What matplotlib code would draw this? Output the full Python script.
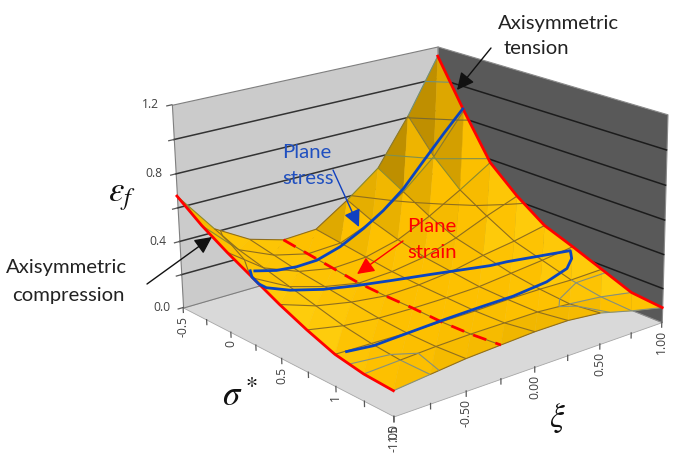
import numpy as np, matplotlib
matplotlib.use('Agg')
import matplotlib.pyplot as plt
from matplotlib.colors import to_rgb
from mpl_toolkits.mplot3d import proj3d
from mpl_toolkits.mplot3d.art3d import Poly3DCollection, Line3DCollection
plt.rcParams['font.family']=['Lato','DejaVu Sans']
plt.rcParams['mathtext.fontset']='stix'

sigma_vals=[-.5,-.25,0,.25,.5,.75,1,1.25,1.5]
xi_vals=[-1,-.75,-.5,-.25,0,.25,.5,.75,1]
eps_sigma_m050=[.67,.42,.30,.24,.25,.38,.53,.81,1.14]
eps_sigma_m025=[.56,.36,.27,.22,.23,.31,.44,.61,.85]
eps_sigma_000=[.47,.32,.24,.20,.21,.26,.35,.46,.58]
eps_sigma_025=[.39,.28,.22,.18,.19,.22,.28,.36,.43]
eps_sigma_050=[.31,.24,.20,.175,.18,.20,.24,.27,.31]
eps_sigma_075=[.24,.20,.18,.175,.175,.18,.20,.22,.245]
eps_sigma_100=[.18,.175,.17,.17,.17,.175,.175,.17,.175]
eps_sigma_125=[.15,.16,.17,.175,.175,.175,.16,.14,.105]
eps_sigma_150=[.14,.16,.18,.19,.20,.20,.18,.13,.087]
plane_stress_a_sigma=[-.255,-.275,-.29,-.28,-.265,-.25,-.21,-.14,-.065,.02,.14]
plane_stress_a_xi=[.995,.855,.695,.525,.35,.18,-.035,-.265,-.47,-.675,-.91]
plane_stress_a_eps=[.86,.729,.58,.447,.351,.28,.225,.214,.243,.293,.379]
plane_stress_b_sigma=[.16,.24,.305,.335,.31,.295,.285,.345,.45,.61,.64,.755,.82,.89,.945,.975,.975,.985,1.005,1.02,1.005]
plane_stress_b_xi=[-.955,-1,-1,-.97,-.79,-.545,-.295,-.09,.15,.46,.565,.975,.925,.82,.605,.315,.06,-.2,-.505,-.75,-.925]
plane_stress_b_eps=[.396,.393,.372,.351,.286,.227,.186,.183,.195,.217,.224,.228,.209,.192,.178,.172,.17,.17,.17,.169,.177]
z_ticks=[0,.2,.4,.6,.8,1.0,1.2]
z_labels=['0.0','0.4','0.8','1.2']
sigma_labels=['-0.5','0','0.5','1','1.5']
xi_labels=['-1.00','-0.50','0.00','0.50','1.00']

Z=np.array([eps_sigma_m050,eps_sigma_m025,eps_sigma_000,eps_sigma_025,eps_sigma_050,eps_sigma_075,eps_sigma_100,eps_sigma_125,eps_sigma_150])
S=np.array(sigma_vals);X=np.array(xi_vals)

fig=plt.figure(figsize=(6.84,4.76),dpi=100,facecolor='white')
ax=fig.add_axes([0,0,1,1],projection='3d',computed_zorder=False)
ax.set_xlim(-.5,1.5,view_margin=0);ax.set_ylim(-1,1,view_margin=0);ax.set_zlim(0,1.2,view_margin=0)
ax.view_init(elev=19.2309,azim=-38.7344,roll=.829)
ax.set_proj_type('persp',focal_length=.7296)
ax.set_box_aspect((1,.9804,.621))
ax.set_axis_off()
ax.patch.set_alpha(0)
ax.apply_aspect()
T=ax.transData.transform
p0=T((0,0));p1=T((.01,.01));a=(p1-p0)[0]/.01
pos=ax.get_position();L0=pos.width*684
fx=(p0[0]-pos.x0*684)/L0;fy=(p0[1]-pos.y0*476)/L0
L=L0*2813.6/a
ax.set_position([(417.83-fx*L)/684,(262.1-fy*L)/476,L/684,L/476])
ax.apply_aspect()
def to_px(s,x,z):
    u,v,_=proj3d.proj_transform(np.atleast_1d(float(s)),np.atleast_1d(float(x)),np.atleast_1d(float(z)),ax.get_proj())
    q=ax.transData.transform(np.c_[u,v])
    return q[0,0],476-q[0,1]

slo,shi,xlo,xhi,zhi=-.5,1.5,-1,1,1.2
ax.add_collection3d(Poly3DCollection([[(slo,xlo,0),(shi,xlo,0),(shi,xhi,0),(slo,xhi,0)]],facecolors='#d9d9d9',edgecolors='#a6a6a6',linewidths=.6,zorder=1))
ax.add_collection3d(Poly3DCollection([[(slo,xlo,0),(slo,xhi,0),(slo,xhi,zhi),(slo,xlo,zhi)]],facecolors='#cbcbcb',edgecolors='#7f7f7f',linewidths=.8,zorder=1))
ax.add_collection3d(Poly3DCollection([[(slo,xhi,0),(shi,xhi,0),(shi,xhi,zhi),(slo,xhi,zhi)]],facecolors='#595959',edgecolors='#8c8c8c',linewidths=.8,zorder=1))
for z in z_ticks[1:-1]:
    ax.plot([slo,slo],[xlo,xhi],[z,z],color='#333333',lw=1.1,zorder=2)
    ax.plot([slo,shi],[xhi,xhi],[z,z],color='#1c1c1c',lw=1.1,zorder=2)
for z in z_ticks:
    ax.plot([slo,slo],[xlo,xlo-.035],[z,z],color='#595959',lw=.9,zorder=2)
for s in sigma_vals:
    ax.plot([s,s],[xlo,xlo],[0,-.03],color='#595959',lw=.9,zorder=2)
for x in xi_vals:
    ax.plot([shi,shi],[x,x],[0,-.03],color='#595959',lw=.9,zorder=2)

tris=[];cols=[]
base=np.array(to_rgb('#FDC000'));bright=np.array(to_rgb('#FFDF1E'));dark=np.array(to_rgb('#BE8F00'))
scale=np.array([.5,.49,.5175])
Lt=np.array([.5,.15,.85]);Lt/=np.linalg.norm(Lt)
for i in range(8):
    for j in range(8):
        a00=(S[i],X[j],Z[i,j]);a10=(S[i+1],X[j],Z[i+1,j]);a11=(S[i+1],X[j+1],Z[i+1,j+1]);a01=(S[i],X[j+1],Z[i,j+1])
        for t in ([a00,a01,a10],[a01,a11,a10]):
            A=(np.array(t[1])-t[0])*scale;B=(np.array(t[2])-t[0])*scale
            n=np.cross(A,B);n/=np.linalg.norm(n)
            if n[2]<0:n=-n
            d=n@Lt-Lt[2]
            col=base+(bright-base)*min(max(d-.03,0)/.2,1) if d>0 else base+(dark-base)*min(-d/.3,1)
            tris.append(t);cols.append(col)
ax.add_collection3d(Poly3DCollection(tris,facecolors=cols,edgecolors=cols,linewidths=.3,zorder=3))
segs=[];sc=[]
def lc(z):
    return '#86907c' if z<.165 else ('#8f6e1e' if z<.42 else ('#8a8a30' if z<.62 else ('#8a7a30' if z<.8 else '#6f9080')))
for i in range(9):
    for j in range(8):
        segs.append([(S[i],X[j],Z[i,j]),(S[i],X[j+1],Z[i,j+1])]);sc.append(lc((Z[i,j]+Z[i,j+1])/2))
        segs.append([(S[j],X[i],Z[j,i]),(S[j+1],X[i],Z[j+1,i])]);sc.append(lc((Z[j,i]+Z[j+1,i])/2))
ax.add_collection3d(Line3DCollection(segs,colors=sc,linewidths=.8,zorder=4))
GS,GX=np.meshgrid(S,X,indexing='ij')
ax.contour(GS,GX,Z,levels=[.165,.4,.6,.8,1.0],colors=['#86907c','#8f6e1e','#7f9050','#7a6a30','#6f9080'],linewidths=.8,zorder=4)
ax.set_xlim(-.5,1.5,view_margin=0);ax.set_ylim(-1,1,view_margin=0);ax.set_zlim(0,1.2,view_margin=0)

ax.plot(S,X[0]*np.ones(9),Z[:,0],color='#FF0000',lw=2,zorder=5)
ax.plot(S,X[-1]*np.ones(9),Z[:,-1],color='#FF0000',lw=2,zorder=5)
ax.plot(S,X[3]*np.ones(9),Z[:,3],color='#FF0000',lw=2,ls=(0,(5,3.5)),zorder=5)
ax.plot(plane_stress_a_sigma,plane_stress_a_xi,plane_stress_a_eps,color='#0B45C0',lw=2,zorder=6)
ax.plot(plane_stress_b_sigma,plane_stress_b_xi,plane_stress_b_eps,color='#0B45C0',lw=2,zorder=6)

ov=fig.add_axes([0,0,1,1]);ov.set_xlim(0,684);ov.set_ylim(476,0);ov.axis('off');ov.patch.set_alpha(0)
tk=dict(fontsize=8.7,color='#404040',family='Open Sans')
for z,l in zip(z_ticks[::2],z_labels):
    x_,y_=to_px(slo,xlo,z);ov.text(x_-13,y_,l,ha='right',va='center',**tk)
for s,l in zip(sigma_vals[::2],sigma_labels):
    x_,y_=to_px(s,xlo,0);ov.text(x_,y_+8,l,ha='center',va='top',rotation=90,**tk)
for x,l in zip(xi_vals[::2],xi_labels):
    x_,y_=to_px(shi,x,0);ov.text(x_,y_+8,l,ha='center',va='top',rotation=90,**tk)
ov.text(122,197,r'$\varepsilon_f$',fontsize=25,ha='center',va='center',color='#111111')
ov.text(240,396,r'$\sigma^*$',fontsize=25,ha='center',va='center',color='#111111')
ov.text(557,418,r'$\xi$',fontsize=24,ha='center',va='center',color='#111111')
ft=dict(fontsize=14.6,ha='left',va='center')
ov.text(498,23,'Axisymmetric',color='#222222',**ft);ov.text(504,49,'tension',color='#222222',**ft)
ov.text(6,268,'Axisymmetric',color='#222222',**ft);ov.text(12,295,'compression',color='#222222',**ft)
ov.text(282,153,'Plane',color='#2050C0',**ft);ov.text(282,179,'stress',color='#2050C0',**ft)
ov.text(407,227,'Plane',color='#FF0000',**ft);ov.text(407,253,'strain',color='#FF0000',**ft)
def arrow(a,b,c):
    ov.annotate('',xy=b,xytext=a,arrowprops=dict(arrowstyle='-|>,head_length=.65,head_width=.32',color=c,lw=1,shrinkA=0,shrinkB=0,mutation_scale=16))
arrow((491,48),(457,90),'#111111');arrow((147,284),(212,237),'#111111')
arrow((333,170),(359,227),'#1040C0');arrow((403,241),(357,274),'#FF0000')
fig.savefig('out.png',dpi=100)
